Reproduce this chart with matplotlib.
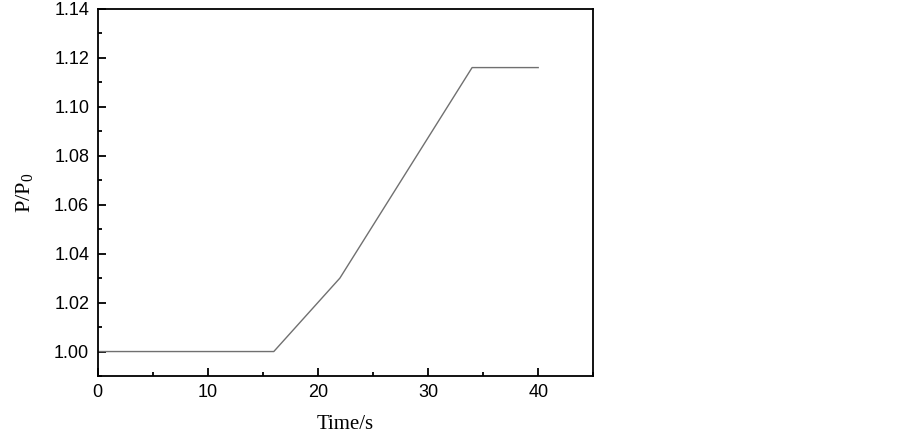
import matplotlib
matplotlib.use("Agg")
import matplotlib.pyplot as plt
from matplotlib.ticker import MultipleLocator, FormatStrFormatter

# Data
time_s = [0, 16, 22, 34, 40]
p_ratio = [1.0, 1.0, 1.03, 1.116, 1.116]

# serif subscript in the y label
plt.rcParams["mathtext.fontset"] = "custom"
plt.rcParams["mathtext.rm"] = "Liberation Serif"
plt.rcParams["mathtext.it"] = "Liberation Serif:italic"

fig = plt.figure(figsize=(9.03, 4.33), dpi=100)
ax = fig.add_axes([0.108, 0.1316, 0.549, 0.848])

ax.plot(time_s, p_ratio, color="#707070", linewidth=1.0)

ax.set_xlim(0, 45)
ax.set_ylim(0.99, 1.14)
ax.xaxis.set_major_locator(MultipleLocator(10))
ax.xaxis.set_minor_locator(MultipleLocator(5))
ax.yaxis.set_major_locator(MultipleLocator(0.02))
ax.yaxis.set_minor_locator(MultipleLocator(0.01))
ax.yaxis.set_major_formatter(FormatStrFormatter("%.2f"))

ax.tick_params(which="both", direction="in", top=False, right=False, width=1.3)
ax.tick_params(which="major", length=6, labelsize=13, pad=6)
ax.tick_params(which="minor", length=3)
for lbl in ax.get_xticklabels() + ax.get_yticklabels():
    lbl.set_family("Liberation Sans")
for s in ax.spines.values():
    s.set_linewidth(1.3)

ax.set_xlabel("Time/s", family="Liberation Serif", fontsize=15, labelpad=10)
ax.set_ylabel(r"P/P$_\mathrm{0}$", family="Liberation Serif", fontsize=16, labelpad=14)

fig.savefig("out.png", dpi=100)
